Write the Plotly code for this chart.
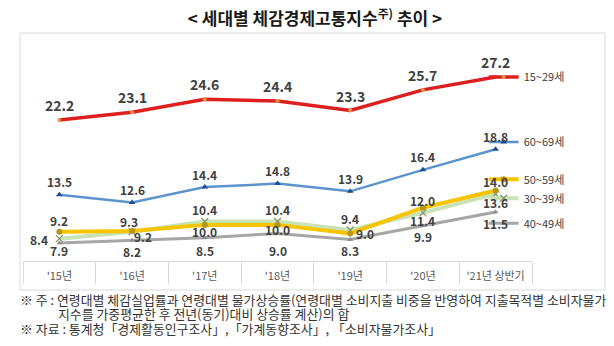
import plotly.graph_objects as go

categories = ["'15년", "'16년", "'17년", "'18년", "'19년", "'20년", "'21년 상반기"]
names = ["15~29세", "60~69세", "50~59세", "30~39세", "40~49세"]
v15_29 = [22.2, 23.1, 24.6, 24.4, 23.3, 25.7, 27.2]
v60_69 = [13.5, 12.6, 14.4, 14.8, 13.9, 16.4, 18.8]
v50_59 = [9.2, 9.3, 10.0, 10.0, 9.0, 12.0, 14.0]
v30_39 = [8.4, 9.2, 10.4, 10.4, 9.4, 11.4, 13.6]
v40_49 = [7.9, 8.2, 8.5, 9.0, 8.3, 9.9, 11.5]

# label offsets in pixels (dx right, dy down) -- styling only
off_15_29 = [(0, -15)] * 7
off_60_69 = [(0, -13)] * 7
off_50_59 = [(0, -11), (-3, -9), (0, 7), (0, 5), (15, 0), (0, -7), (0, -9)]
off_30_39 = [(-20, 1), (11, 5), (0, -12), (0, -12), (0, -12), (0, 8), (0, 9)]
off_40_49 = [(0, 8), (0, 11), (0, 13), (0, 17), (0, 11), (0, 11), (0, 12)]

FONT = "Noto Sans CJK KR"

series = [
    # name, values, line color, width, marker symbol, marker color, size, offsets, label size, legend y
    (names[3], v30_39, "#c9e3b6", 4, "x-thin-open", "#7f9a6e", 7, off_30_39, 12, 0.284, "legend4"),
    (names[4], v40_49, "#a6a6a6", 3, "triangle-up", "#8c8c8c", 5, off_40_49, 12, 0.171, "legend5"),
    (names[2], v50_59, "#f7c400", 4, "circle", "#b89610", 6, off_50_59, 12, 0.370, "legend3"),
    (names[1], v60_69, "#5b93cc", 2.5, "triangle-up", "#1f4f8f", 6, off_60_69, 12, 0.538, "legend2"),
    (names[0], v15_29, "#de1f1f", 3.5, "circle", "#e3963e", 4, off_15_29, 14, 0.833, "legend"),
]

fig = go.Figure()
annotations = []
legend_layouts = {}
for name, vals, lc, lw, sym, mc, ms, offs, lsz, ly, lg in series:
    mline = dict(width=1.3, color=mc) if "open" in sym else dict(width=0)
    fig.add_trace(go.Scatter(
        x=categories, y=vals, name=name, mode="lines+markers",
        line=dict(color=lc, width=lw),
        marker=dict(symbol=sym, color=mc, size=ms, line=mline),
        legend=lg,
    ))
    for c, v, (dx, dy) in zip(categories, vals, offs):
        annotations.append(dict(
            x=c, y=v, xref="x", yref="y", text=f"<b>{v:.1f}</b>", showarrow=False,
            xshift=dx, yshift=-dy, font=dict(family=FONT, size=lsz, color="#404040"),
        ))
    legend_layouts[lg] = dict(
        x=0.905, y=ly, xanchor="left", yanchor="middle", bgcolor="rgba(0,0,0,0)",
        font=dict(family=FONT, size=11, color="#404040"), itemwidth=30,
        tracegroupgap=0,
    )

notes = [
    ("※ 주 : 연령대별 체감실업률과 연령대별 물가상승률(연령대별 소비지출 비중을 반영하여 지출목적별 소비자물가", (18 - 23) / 509, 299),
    ("지수를 가중평균한 후 전년(동기)대비 상승률 계산)의 합", (56 - 23) / 509, 313),
    ("※ 자료 : 통계청「경제활동인구조사」,「가계동향조사」, 「소비자물가조사」", (18 - 23) / 509, 328),
]
for t, xp, yp in notes:
    annotations.append(dict(
        x=xp, y=(261 - yp) / 221, xref="paper", yref="paper", text=t, showarrow=False,
        xanchor="left", yanchor="middle", font=dict(family=FONT, size=12.9, color="#333333"),
    ))

fig.update_layout(
    width=614, height=346,
    margin=dict(l=23, r=82, t=40, b=85),
    paper_bgcolor="white", plot_bgcolor="white",
    title=dict(text="<b>< 세대별 체감경제고통지수<sup>주)</sup> 추이 ></b>", x=315 / 614, xanchor="center",
               y=1 - 19 / 346, yanchor="middle", font=dict(family=FONT, size=17, color="#1a1a1a")),
    xaxis=dict(type="category", range=[-0.5, 6.5], showline=True, linecolor="#d9d9d9", linewidth=1,
               ticks="outside", tickson="boundaries", ticklen=22, tickcolor="#d9d9d9",
               ticklabelstandoff=5, showgrid=False, zeroline=False,
               tickfont=dict(family=FONT, size=11, color="#595959")),
    yaxis=dict(range=[5.8, 31.5], visible=False, showgrid=False, zeroline=False),
    annotations=annotations,
    shapes=[dict(type="rect", xref="paper", yref="paper",
                 x0=(20 - 23) / 509, x1=(605 - 23) / 509, y0=(261 - 290) / 221, y1=(261 - 33) / 221,
                 line=dict(color="#d9d9d9", width=1), fillcolor="rgba(0,0,0,0)", layer="below")],
    showlegend=True,
    **legend_layouts,
)

fig.write_html("out.html")
